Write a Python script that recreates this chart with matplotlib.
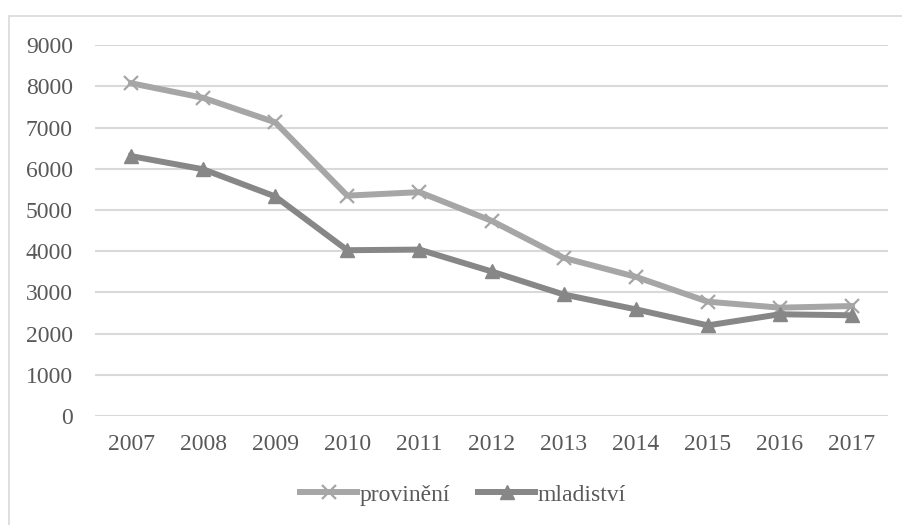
import matplotlib.pyplot as plt
from matplotlib.patches import Rectangle

years = ['2007', '2008', '2009', '2010', '2011', '2012', '2013', '2014', '2015', '2016', '2017']
provineni = [8080, 7725, 7130, 5350, 5435, 4740, 3840, 3380, 2775, 2630, 2670]
mladistvi = [6310, 5990, 5330, 4025, 4040, 3510, 2950, 2590, 2200, 2470, 2445]
yticks = [0, 1000, 2000, 3000, 4000, 5000, 6000, 7000, 8000, 9000]

plt.rcParams['font.family'] = ['Liberation Serif', 'DejaVu Serif']

fig = plt.figure(figsize=(9.02, 5.25), dpi=100)
# outer chart frame
fig.patches.append(Rectangle((9/902, -0.1), 1.2, 1 - 16/525 + 0.1, transform=fig.transFigure,
                             fill=False, edgecolor='#d9d9d9', linewidth=1.2))

ax = fig.add_axes([95/902, 1 - 416/525, 793/902, (416 - 45.3)/525])
x = list(range(len(years)))
ax.plot(x, provineni, color='#a6a6a6', linewidth=4.3, marker='x', markersize=10,
        markeredgewidth=1.6, label='provinění', solid_joinstyle='round')
ax.plot(x, mladistvi, color='#878787', linewidth=4.3, marker='^', markersize=10,
        label='mladiství', solid_joinstyle='round')

ax.set_xlim(-0.5, len(years) - 0.5)
ax.set_ylim(0, 9000)
ax.set_yticks(yticks)
ax.set_yticklabels([str(v) for v in yticks])
ax.set_xticks(x)
ax.set_xticklabels(years)
ax.grid(axis='y', color='#d9d9d9', linewidth=1.5)
ax.set_axisbelow(True)
for s in ax.spines.values():
    s.set_visible(False)
ax.tick_params(length=0, labelsize=17, colors='#595959')
ax.tick_params(axis='y', pad=16)
ax.tick_params(axis='x', pad=13)

fig.legend(loc='center', bbox_to_anchor=(463/902, 1 - 495/525), ncol=2, frameon=False,
           fontsize=17, labelcolor='#595959', handlelength=2.4, handletextpad=0.1,
           columnspacing=1.2)

fig.savefig('out.png', dpi=100)
